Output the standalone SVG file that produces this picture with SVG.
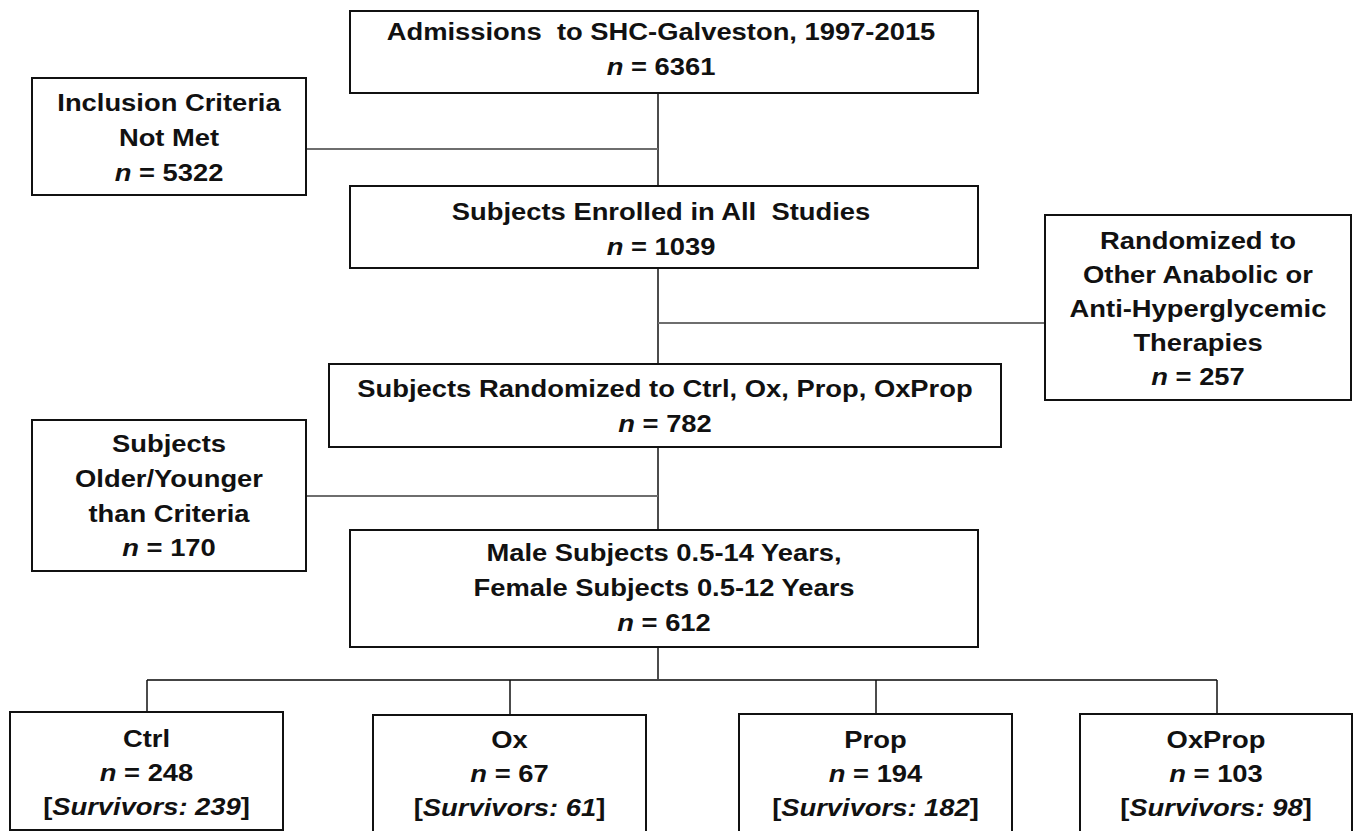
<svg xmlns="http://www.w3.org/2000/svg" width="1356" height="831" viewBox="0 0 1356 831">
<style>
.box{fill:#fff;stroke:#111;stroke-width:2}
.t{font-family:"Liberation Sans",Arial,sans-serif;font-weight:bold;font-size:24px;fill:#111;text-anchor:middle}
.i{font-style:italic}
.v{stroke:#111;stroke-width:1.5;fill:none}
.h{stroke:#6e6e6e;stroke-width:2.2;fill:none}
.b{stroke:#444;stroke-width:2;fill:none}
</style>
<rect width="1356" height="831" fill="#fff"/>
<g id="connectors">
<line class="v" x1="658" y1="93" x2="658" y2="186"/>
<line class="h" x1="306" y1="149" x2="658" y2="149"/>
<line class="v" x1="658" y1="268" x2="658" y2="364"/>
<line class="h" x1="658" y1="323" x2="1045" y2="323"/>
<line class="v" x1="658" y1="447" x2="658" y2="530"/>
<line class="h" x1="306" y1="496" x2="658" y2="496"/>
<line class="v" x1="658" y1="647" x2="658" y2="680"/>
<line class="b" x1="147" y1="680" x2="1217" y2="680"/>
<line class="v" x1="147" y1="680" x2="147" y2="712"/>
<line class="v" x1="510" y1="680" x2="510" y2="715"/>
<line class="v" x1="876" y1="680" x2="876" y2="714"/>
<line class="v" x1="1217" y1="680" x2="1217" y2="714"/>
</g>
<g id="admissions">
<rect class="box" x="350" y="11" width="628" height="82"/>
<text class="t" transform="translate(661 0) scale(1.14 1)"><tspan x="0" y="40" xml:space="preserve">Admissions  to SHC-Galveston, 1997-2015</tspan><tspan x="0" y="75"><tspan class="i">n</tspan> = 6361</tspan></text>
</g>
<g id="inclusion">
<rect class="box" x="32" y="78" width="274" height="117"/>
<text class="t" transform="translate(169 0) scale(1.14 1)"><tspan x="0" y="111">Inclusion Criteria</tspan><tspan x="0" y="146">Not Met</tspan><tspan x="0" y="181"><tspan class="i">n</tspan> = 5322</tspan></text>
</g>
<g id="enrolled">
<rect class="box" x="350" y="186" width="628" height="82"/>
<text class="t" transform="translate(661 0) scale(1.14 1)"><tspan x="0" y="220" xml:space="preserve">Subjects Enrolled in All  Studies</tspan><tspan x="0" y="255"><tspan class="i">n</tspan> = 1039</tspan></text>
</g>
<g id="other">
<rect class="box" x="1045" y="215" width="306" height="185"/>
<text class="t" transform="translate(1198 0) scale(1.14 1)"><tspan x="0" y="249">Randomized to</tspan><tspan x="0" y="283">Other Anabolic or</tspan><tspan x="0" y="317">Anti-Hyperglycemic</tspan><tspan x="0" y="351">Therapies</tspan><tspan x="0" y="385"><tspan class="i">n</tspan> = 257</tspan></text>
</g>
<g id="randomized">
<rect class="box" x="329" y="364" width="672" height="83"/>
<text class="t" transform="translate(665 0) scale(1.14 1)"><tspan x="0" y="397">Subjects Randomized to Ctrl, Ox, Prop, OxProp</tspan><tspan x="0" y="432"><tspan class="i">n</tspan> = 782</tspan></text>
</g>
<g id="age">
<rect class="box" x="32" y="420" width="274" height="151"/>
<text class="t" transform="translate(169 0) scale(1.14 1)"><tspan x="0" y="452">Subjects</tspan><tspan x="0" y="487">Older/Younger</tspan><tspan x="0" y="522">than Criteria</tspan><tspan x="0" y="556"><tspan class="i">n</tspan> = 170</tspan></text>
</g>
<g id="male">
<rect class="box" x="350" y="530" width="628" height="117"/>
<text class="t" transform="translate(664 0) scale(1.14 1)"><tspan x="0" y="561">Male Subjects 0.5-14 Years,</tspan><tspan x="0" y="596">Female Subjects 0.5-12 Years</tspan><tspan x="0" y="631"><tspan class="i">n</tspan> = 612</tspan></text>
</g>
<g id="ctrl">
<rect class="box" x="10" y="712" width="273" height="118"/>
<text class="t" transform="translate(146.5 0) scale(1.14 1)"><tspan x="0" y="747">Ctrl</tspan><tspan x="0" y="781"><tspan class="i">n</tspan> = 248</tspan><tspan x="0" y="815">[<tspan class="i">Survivors: 239</tspan>]</tspan></text>
</g>
<g id="ox">
<rect class="box" x="373" y="715" width="273" height="125"/>
<text class="t" transform="translate(509.5 0) scale(1.14 1)"><tspan x="0" y="748">Ox</tspan><tspan x="0" y="782"><tspan class="i">n</tspan> = 67</tspan><tspan x="0" y="816">[<tspan class="i">Survivors: 61</tspan>]</tspan></text>
</g>
<g id="prop">
<rect class="box" x="739" y="714" width="273" height="125"/>
<text class="t" transform="translate(875.5 0) scale(1.14 1)"><tspan x="0" y="748">Prop</tspan><tspan x="0" y="782"><tspan class="i">n</tspan> = 194</tspan><tspan x="0" y="816">[<tspan class="i">Survivors: 182</tspan>]</tspan></text>
</g>
<g id="oxprop">
<rect class="box" x="1080" y="714" width="272" height="125"/>
<text class="t" transform="translate(1216 0) scale(1.14 1)"><tspan x="0" y="748">OxProp</tspan><tspan x="0" y="782"><tspan class="i">n</tspan> = 103</tspan><tspan x="0" y="816">[<tspan class="i">Survivors: 98</tspan>]</tspan></text>
</g>
</svg>
